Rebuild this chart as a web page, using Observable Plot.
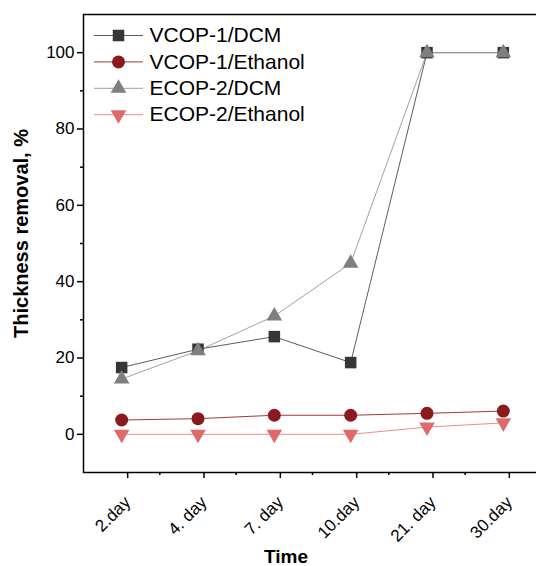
<!DOCTYPE html>
<html><head><meta charset="utf-8">
<script src="https://cdn.jsdelivr.net/npm/d3@7"></script>
<script src="https://cdn.jsdelivr.net/npm/@observablehq/plot@0.6"></script>
<style>html,body{margin:0;padding:0;background:#fff;overflow:hidden;}</style>
</head><body><div id="chart"></div>
<script>
const days = ["2.day", "4. day", "7. day", "10.day", "21. day", "30.day"];
const seriesNames = ["VCOP-1/DCM", "VCOP-1/Ethanol", "ECOP-2/DCM", "ECOP-2/Ethanol"];
const vcopDCM = [17.5, 22.3, 25.6, 18.8, 100, 100];
const vcopEthanol = [3.75, 4.1, 5.0, 5.0, 5.5, 6.1];
const ecopDCM = [14.5, 21.9, 31.0, 44.8, 100, 100];
const ecopEthanol = [0, 0, 0, 0, 1.9, 3.0];
const yMajor = [0, 20, 40, 60, 80, 100];
const yMinor = [10, 30, 50, 70, 90];

const styles = [
  {symbol: "square", fill: "#363636", line: "#5c5c5c", r: 6.5, rotate: 0},
  {symbol: "circle", fill: "#8b1a1f", line: "#a03a3a", r: 6.5, rotate: 0},
  {symbol: "triangle", fill: "#7f7f7f", line: "#a0a0a0", r: 5.8, rotate: 0},
  {symbol: "triangle", fill: "#e06a6a", line: "#eb8e8e", r: 5.8, rotate: 180}
];
const seriesValues = [vcopDCM, vcopEthanol, ecopDCM, ecopEthanol];
const data = seriesValues.map((vals, s) => vals.map((v, i) => ({i, v, s})));

const lineSymbol = {draw(ctx) { ctx.moveTo(-24.5, 0); ctx.lineTo(24.5, 0); }};

const marks = [];
marks.push(Plot.frame({stroke: "#000", strokeWidth: 1.5}));
marks.push(Plot.axisY({ticks: yMajor, tickSize: 6, tickPadding: 3, fontSize: 17, label: null, strokeWidth: 1.5}));
marks.push(Plot.axisY({ticks: yMinor, tickSize: 3, tickFormat: () => "", label: null, strokeWidth: 1.5}));
marks.push(Plot.axisX({ticks: d3.range(days.length), tickFormat: i => days[i], tickRotate: -45, fontSize: 17,
  tickSize: 6, tickPadding: 21, dx: 6, label: null, strokeWidth: 1.5}));
marks.push(Plot.axisX({ticks: d3.range(days.length - 1).map(i => i + 0.5), tickSize: 3, tickFormat: () => "", label: null, strokeWidth: 1.5}));

data.forEach((d, s) => {
  marks.push(Plot.line(d, {x: "i", y: "v", stroke: styles[s].line, strokeWidth: 1}));
});
data.forEach((d, s) => {
  const st = styles[s];
  marks.push(Plot.dot(d, {x: "i", y: "v", symbol: st.symbol, fill: st.fill, r: st.r, rotate: st.rotate, stroke: "none"}));
});

// legend inside plot
seriesNames.forEach((name, s) => {
  const st = styles[s];
  const dy = 21 + 26.4 * s;
  marks.push(Plot.dot([name], {frameAnchor: "top-left", dx: 35, dy, symbol: lineSymbol, stroke: st.line, fill: "none", r: 1, strokeWidth: 1}));
  marks.push(Plot.dot([name], {frameAnchor: "top-left", dx: 35, dy, symbol: st.symbol, fill: st.fill, r: st.r, rotate: st.rotate, stroke: "none"}));
  marks.push(Plot.text([name], {frameAnchor: "top-left", dx: 66, dy, text: d => d, textAnchor: "start", lineAnchor: "middle", fontSize: 21, fill: "#000"}));
});

marks.push(Plot.text(["Thickness removal, %"], {frameAnchor: "left", text: d => d, rotate: -90, dx: -62, dy: -10, textAnchor: "middle", fontWeight: "bold", fontSize: 20, lineAnchor: "middle", fill: "#000"}));
marks.push(Plot.text(["Time"], {frameAnchor: "bottom", text: d => d, dx: -26.5, dy: 84, textAnchor: "middle", fontWeight: "bold", fontSize: 19, lineAnchor: "middle", fill: "#000"}));

const chart = Plot.plot({
  width: 536,
  height: 566,
  marginLeft: 83,
  marginRight: -5,
  marginTop: 14,
  marginBottom: 94,
  style: {fontFamily: "'Liberation Sans', Arial, sans-serif", background: "#fff", color: "#000"},
  x: {type: "linear", domain: [-0.5, 5.5]},
  y: {domain: [-10, 110]},
  marks
});
document.getElementById("chart").appendChild(chart);
</script>
</body></html>
